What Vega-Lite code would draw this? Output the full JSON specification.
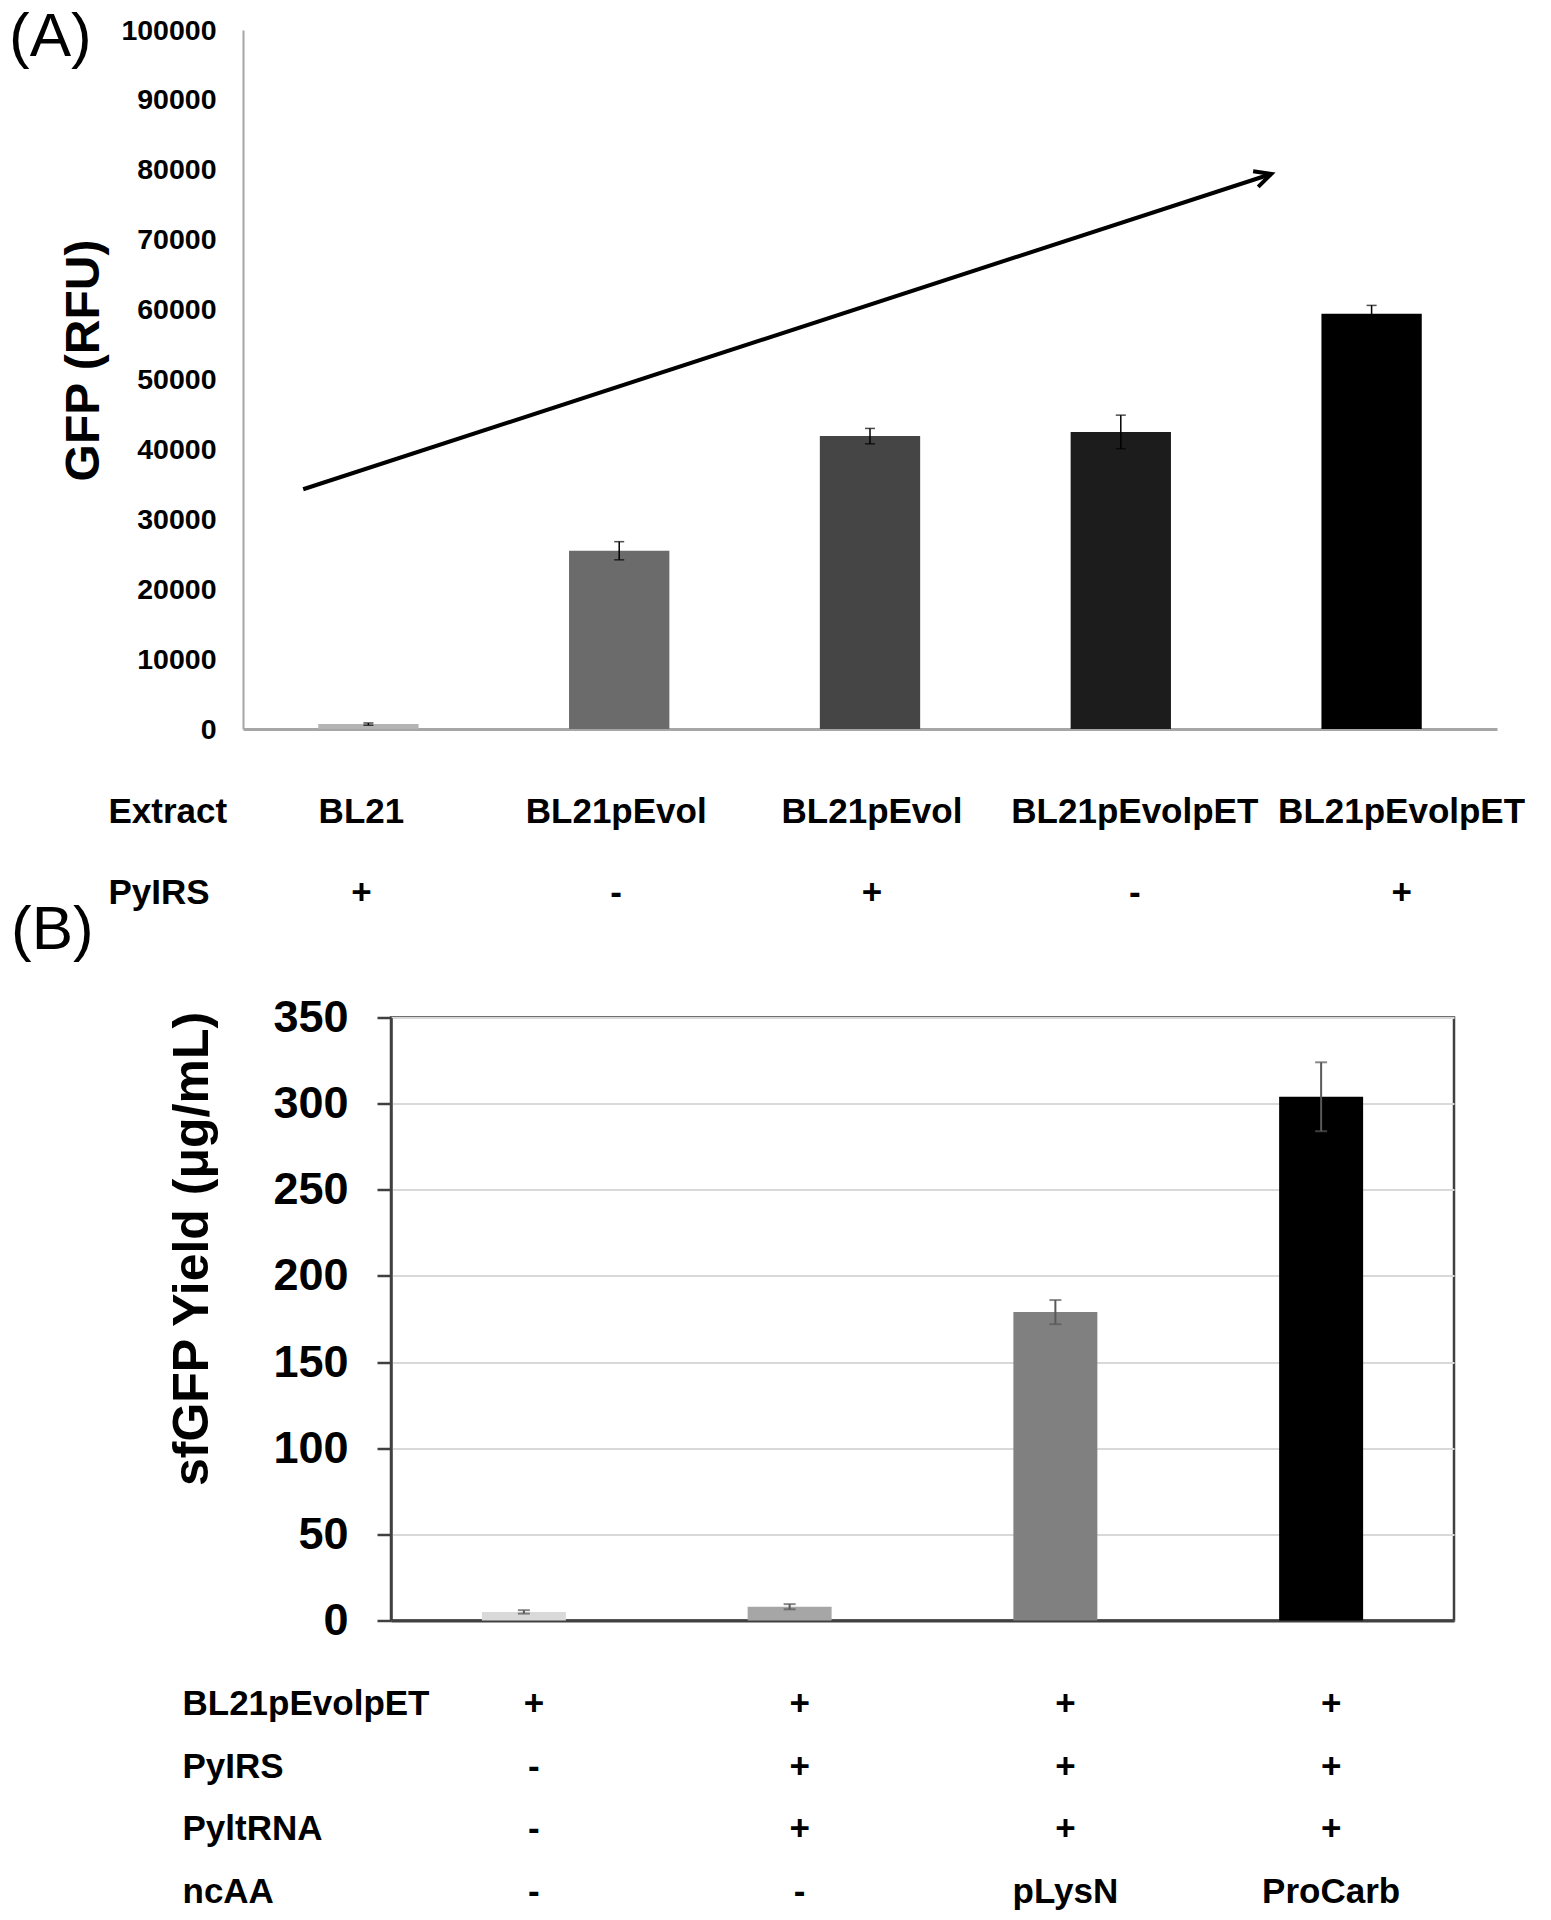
{
  "$schema": "https://vega.github.io/schema/vega-lite/v6.json",
  "background": "white",
  "padding": {"left": 9, "top": 6, "right": 0, "bottom": 0},
  "bounds": "full",
  "align": "none",
  "columns": 1,
  "spacing": -13.5,
  "resolve": {"scale": {"color": "independent"}},
  "config": {"view": {"stroke": null}, "font": "Liberation Sans"},
  "concat": [
    {
      "width": 1254,
      "height": 699,
      "title": {"text": "(A)", "anchor": "start", "frame": "group", "dx": -234, "dy": 53.2, "offset": 0, "font": "Liberation Sans", "fontSize": 62, "fontWeight": "normal", "color": "black", "baseline": "top"},
      "data": {"values": [
        {"extract": "BL21", "pylrs": "+", "label": "BL21|+", "gfp": 700, "err": 150},
        {"extract": "BL21pEvol", "pylrs": "-", "label": "BL21pEvol|-", "gfp": 25500, "err": 1300},
        {"extract": "BL21pEvol", "pylrs": "+", "label": "BL21pEvol|+", "gfp": 41900, "err": 1100},
        {"extract": "BL21pEvolpET", "pylrs": "-", "label": "BL21pEvolpET|-", "gfp": 42500, "err": 2400},
        {"extract": "BL21pEvolpET", "pylrs": "+", "label": "BL21pEvolpET|+", "gfp": 59400, "err": 1200}
      ]},
      "layer": [
        {
          "layer": [
            {
              "mark": {"type": "bar"},
              "encoding": {
                "x": {"field": "label", "type": "nominal", "sort": null,
                  "scale": {"paddingInner": 0.6, "paddingOuter": 0.3},
                  "axis": {
                    "labelExpr": "split(datum.value, '|')",
                    "labelAngle": 0, "ticks": false, "tickSize": 0,
                    "domainColor": "#a6a6a6", "domainWidth": 3,
                    "labelFont": "Liberation Sans", "labelFontWeight": "bold", "labelFontSize": 35, "labelColor": "black",
                    "labelLineHeight": 81, "labelPadding": 65, "labelBaseline": "top", "labelOverlap": false, "labelLimit": 600,
                    "labelOffset": {"condition": [
                      {"test": "datum.value === 'BL21|+'", "value": -7},
                      {"test": "datum.value === 'BL21pEvol|-'", "value": -3},
                      {"test": "datum.value === 'BL21pEvol|+'", "value": 2},
                      {"test": "datum.value === 'BL21pEvolpET|-'", "value": 14},
                      {"test": "datum.value === 'BL21pEvolpET|+'", "value": 30}
                    ], "value": 0},
                    "title": ["Extract", "PyIRS"],
                    "titleFont": "Liberation Sans", "titleFontSize": 35, "titleFontWeight": "bold", "titleColor": "black",
                    "titleLineHeight": 81, "titleAlign": "left", "titleAnchor": "start", "titleBaseline": "top", "titleLimit": 600,
                    "titleX": -135, "titleY": 65
                  }
                },
                "y": {"field": "gfp", "type": "quantitative", "title": "GFP (RFU)",
                  "scale": {"domain": [0, 100000], "nice": false},
                  "axis": {
                    "values": [0, 10000, 20000, 30000, 40000, 50000, 60000, 70000, 80000, 90000, 100000],
                    "format": "d", "ticks": false, "tickSize": 0, "grid": false,
                    "domainColor": "#a6a6a6", "domainWidth": 2,
                    "labelFont": "Liberation Sans", "labelFontWeight": "bold", "labelFontSize": 28.5, "labelColor": "black", "labelPadding": 27,
                    "titleFont": "Liberation Sans", "titleFontSize": 48, "titleFontWeight": "bold", "titleColor": "black",
                    "titleX": -159, "titleY": 330, "titleBaseline": "middle", "titleAlign": "center"
                  }
                },
                "color": {"field": "label", "type": "nominal", "sort": null, "legend": null,
                  "scale": {"domain": ["BL21|+", "BL21pEvol|-", "BL21pEvol|+", "BL21pEvolpET|-", "BL21pEvolpET|+"],
                            "range": ["#b4b4b4", "#6b6b6b", "#454545", "#1c1c1c", "#000000"]}}
              }
            },
            {
              "mark": {"type": "errorbar", "color": "black", "thickness": 1.5, "ticks": {"size": 10, "color": "black", "thickness": 1.5}},
              "encoding": {
                "x": {"field": "label", "type": "nominal", "sort": null},
                "y": {"field": "gfp", "type": "quantitative", "title": "GFP (RFU)", "scale": {"domain": [0, 100000], "nice": false}},
                "yError": {"field": "err"}
              }
            }
          ]
        },
        {
          "data": {"values": [
            {"pos": 0.24, "gfp": 34300},
            {"pos": 4.1, "gfp": 79400}
          ]},
          "layer": [
            {
              "mark": {"type": "line", "color": "black", "strokeWidth": 4},
              "encoding": {
                "x": {"field": "pos", "type": "quantitative", "scale": {"domain": [0, 5], "nice": false, "zero": false}, "axis": null},
                "y": {"field": "gfp", "type": "quantitative", "title": "GFP (RFU)", "scale": {"domain": [0, 100000], "nice": false}}
              }
            },
            {
              "transform": [{"filter": "datum.pos > 1"}],
              "mark": {"type": "point", "shape": "M -1.4 -0.7 L 0 0 L -1.4 0.7", "filled": false, "color": "black", "strokeWidth": 4, "size": 550, "angle": 342, "opacity": 1},
              "encoding": {
                "x": {"field": "pos", "type": "quantitative", "scale": {"domain": [0, 5], "nice": false, "zero": false}, "axis": null},
                "y": {"field": "gfp", "type": "quantitative", "title": "GFP (RFU)", "scale": {"domain": [0, 100000], "nice": false}}
              }
            }
          ]
        }
      ],
      "resolve": {"scale": {"x": "independent"}, "axis": {"x": "independent"}}
    },
    {
      "spacing": -238,
      "hconcat": [
        {
          "width": 1,
          "height": 1,
          "data": {"values": [{"spacer": 0}]},
          "mark": {"type": "point", "opacity": 0},
          "encoding": {}
        },
        {
          "width": 1063,
          "height": 603,
          "view": {"stroke": "#404040", "strokeWidth": 2.5},
          "title": {"text": "(B)", "anchor": "start", "frame": "group", "dx": -380, "dy": -34, "offset": 0, "font": "Liberation Sans", "fontSize": 62, "fontWeight": "normal", "color": "black", "baseline": "top"},
          "data": {"values": [
            {"strain": "+", "pylrs": "-", "pyltrna": "-", "ncaa": "-", "label": "+|-|-|-", "yield": 5, "err": 1},
            {"strain": "+", "pylrs": "+", "pyltrna": "+", "ncaa": "-", "label": "+|+|+|-", "yield": 8, "err": 1.5},
            {"strain": "+", "pylrs": "+", "pyltrna": "+", "ncaa": "pLysN", "label": "+|+|+|pLysN", "yield": 179, "err": 7},
            {"strain": "+", "pylrs": "+", "pyltrna": "+", "ncaa": "ProCarb", "label": "+|+|+|ProCarb", "yield": 304, "err": 20}
          ]},
          "layer": [
            {
              "mark": {"type": "bar"},
              "encoding": {
                "x": {"field": "label", "type": "nominal", "sort": null,
                  "scale": {"paddingInner": 0.684, "paddingOuter": 0.342},
                  "axis": {
                    "labelExpr": "split(datum.value, '|')",
                    "labelAngle": 0, "ticks": false, "tickSize": 0,
                    "domainColor": "#404040", "domainWidth": 3,
                    "labelFont": "Liberation Sans", "labelFontWeight": "bold", "labelFontSize": 35, "labelColor": "black",
                    "labelLineHeight": 62.7, "labelPadding": 66, "labelBaseline": "top", "labelOverlap": false, "labelOffset": 10, "labelLimit": 600,
                    "title": ["BL21pEvolpET", "PyIRS", "PyltRNA", "ncAA"],
                    "titleFont": "Liberation Sans", "titleFontSize": 35, "titleFontWeight": "bold", "titleColor": "black",
                    "titleLineHeight": 62.7, "titleAlign": "left", "titleAnchor": "start", "titleBaseline": "top", "titleLimit": 600,
                    "titleX": -209, "titleY": 66
                  }
                },
                "y": {"field": "yield", "type": "quantitative", "title": "sfGFP Yield (μg/mL)",
                  "scale": {"domain": [0, 350], "nice": false},
                  "axis": {
                    "values": [0, 50, 100, 150, 200, 250, 300, 350],
                    "grid": true, "gridColor": "#d9d9d9", "gridWidth": 2,
                    "domainColor": "#404040", "domainWidth": 2.5,
                    "ticks": true, "tickSize": 14, "tickColor": "#404040", "tickWidth": 2.5,
                    "labelFont": "Liberation Sans", "labelFontWeight": "bold", "labelFontSize": 45, "labelColor": "black", "labelPadding": 29,
                    "titleFont": "Liberation Sans", "titleFontSize": 50, "titleFontWeight": "bold", "titleColor": "black",
                    "titleX": -199, "titleY": 231, "titleBaseline": "middle", "titleAlign": "center"
                  }
                },
                "color": {"field": "label", "type": "nominal", "sort": null, "legend": null,
                  "scale": {"domain": ["+|-|-|-", "+|+|+|-", "+|+|+|pLysN", "+|+|+|ProCarb"],
                            "range": ["#d9d9d9", "#a6a6a6", "#808080", "#000000"]}}
              }
            },
            {
              "mark": {"type": "errorbar", "color": "#595959", "thickness": 2, "ticks": {"size": 12, "color": "#595959", "thickness": 2}},
              "encoding": {
                "x": {"field": "label", "type": "nominal", "sort": null},
                "y": {"field": "yield", "type": "quantitative", "title": "sfGFP Yield (μg/mL)", "scale": {"domain": [0, 350], "nice": false}},
                "yError": {"field": "err"}
              }
            }
          ]
        }
      ]
    }
  ]
}
